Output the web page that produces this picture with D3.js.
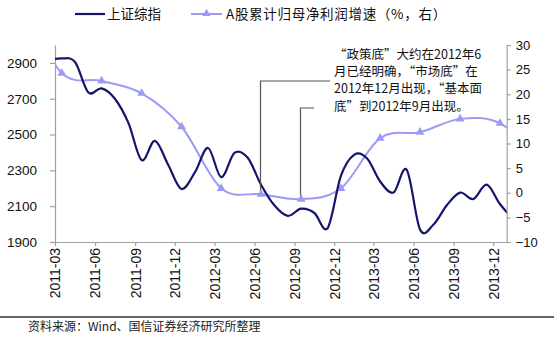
<!DOCTYPE html>
<html>
<head>
<meta charset="utf-8">
<script src="https://cdn.jsdelivr.net/npm/d3@7"></script>
<style>
  body { margin: 0; background: #fff; }
  svg { display: block; }
</style>
</head>
<body>
<svg id="chart" width="554" height="340"></svg>
<script>
// 上证综指 monthly closes (the first and last months run past the plot edges and are clipped)
const indexMonths = [
  "2011-02","2011-03","2011-04","2011-05","2011-06","2011-07","2011-08","2011-09",
  "2011-10","2011-11","2011-12","2012-01","2012-02","2012-03","2012-04","2012-05",
  "2012-06","2012-07","2012-08","2012-09","2012-10","2012-11","2012-12","2013-01",
  "2013-02","2013-03","2013-04","2013-05","2013-06","2013-07","2013-08","2013-09",
  "2013-10","2013-11","2013-12","2014-01"
];
const indexValues = [
  2915, 2925, 2905, 2735, 2758, 2700, 2565, 2357,
  2465, 2330, 2196, 2290, 2425, 2262, 2398, 2370,
  2220, 2105, 2046, 2086, 2062, 1978, 2270, 2388,
  2365, 2238, 2176, 2303, 1970, 1996, 2105, 2176,
  2140, 2220, 2112, 2025
];

// A股累计归母净利润增速 (%), quarterly
const profitMonths = [
  "2010-12","2011-03","2011-06","2011-09","2011-12","2012-03","2012-06",
  "2012-09","2012-12","2013-03","2013-06","2013-09","2013-12","2014-03"
];
const profitValues = [38, 24.3, 22.7, 20.2, 13.4, 0.9, -0.3, -1.3, 0.9, 11.1, 12.3, 15.0, 14.1, 7];

const leftTicks = [1900, 2100, 2300, 2500, 2700, 2900];
const rightTicks = [-10, -5, 0, 5, 10, 15, 20, 25, 30];
const xTickMonths = ["2011-03","2011-06","2011-09","2011-12","2012-03","2012-06",
                     "2012-09","2012-12","2013-03","2013-06","2013-09","2013-12"];

const legendLabels = ["上证综指", "A股累计归母净利润增速（%，右）"];
const noteLines = [
  "“政策底”大约在2012年6",
  "月已经明确，“市场底”在",
  "2012年12月出现，“基本面",
  "底”到2012年9月出现。"
];
const noteMonths = ["2012-06", "2012-09"];
const sourceText = "资料来源：Wind、国信证券经济研究所整理";

const navy = "#15156b";
const lilac = "#9b9bf5";
const axisGray = "#a0a0a0";
const latin = "'Liberation Sans', Arial, sans-serif";
const cjk = "'Noto Sans CJK SC', 'Noto Sans', sans-serif";

const svg = d3.select("#chart");
const plot = { left: 55, right: 506.7, top: 45, bottom: 242 };

const parse = d3.timeParse("%Y-%m");
// each monthly observation sits in the middle of its month
const midMonth = m => {
  const a = parse(m), b = d3.timeMonth.offset(a, 1);
  return new Date((+a + +b) / 2);
};

const x = d3.scaleTime()
  .domain([parse("2011-03"), parse("2014-01")])
  .range([plot.left, plot.right]);
const yL = d3.scaleLinear().domain([1900, 3000]).range([plot.bottom, plot.top]);
const yR = d3.scaleLinear().domain([-10, 30]).range([plot.bottom, plot.top]);

svg.append("clipPath").attr("id", "plotClip")
  .append("rect")
  .attr("x", plot.left).attr("y", plot.top - 10)
  .attr("width", plot.right - plot.left).attr("height", plot.bottom - plot.top + 10);

// axes
const styleAxis = (g, size) => {
  g.selectAll(".domain").attr("stroke", axisGray).attr("stroke-width", 1.2);
  g.selectAll(".tick line").attr("stroke", axisGray).attr("stroke-width", 1.2);
  g.selectAll(".tick text").attr("fill", "#111").style("font-family", latin).style("font-size", size);
};

svg.append("g")
  .attr("transform", `translate(${plot.left},0)`)
  .call(d3.axisLeft(yL).tickValues(leftTicks).tickFormat(d3.format("d"))
    .tickSize(5).tickPadding(13).tickSizeOuter(0))
  .call(g => styleAxis(g, "13.5px"));

svg.append("g")
  .attr("transform", `translate(${plot.right},0)`)
  .call(d3.axisRight(yR).tickValues(rightTicks).tickFormat(d3.format("d"))
    .tickSize(4).tickPadding(5).tickSizeOuter(0))
  .call(g => styleAxis(g, "13px"));

svg.append("g")
  .attr("transform", `translate(0,${plot.bottom})`)
  .call(d3.axisBottom(x).tickValues(xTickMonths.map(parse))
    .tickFormat(d3.timeFormat("%Y-%m")).tickSize(4).tickSizeOuter(0))
  .call(g => styleAxis(g, "14px"))
  .call(g => g.selectAll(".tick text")
    .attr("transform", "rotate(-90)")
    .attr("text-anchor", "end")
    .attr("x", -6).attr("y", 0).attr("dy", "0.35em"));

// series
const indexData = indexMonths.map((m, i) => ({ date: midMonth(m), v: indexValues[i] }));
const profitData = profitMonths.map((m, i) => ({ date: midMonth(m), v: profitValues[i] }));

const series = svg.append("g").attr("clip-path", "url(#plotClip)");

series.append("path")
  .datum(profitData)
  .attr("fill", "none").attr("stroke", lilac).attr("stroke-width", 2)
  .attr("d", d3.line().x(d => x(d.date)).y(d => yR(d.v)).curve(d3.curveCatmullRom.alpha(0)));

series.selectAll(".marker")
  .data(profitData)
  .enter().append("path")
  .attr("class", "marker")
  .attr("transform", d => `translate(${x(d.date)},${yR(d.v)})`)
  .attr("d", d3.symbol().type(d3.symbolTriangle).size(34))
  .attr("fill", lilac);

series.append("path")
  .datum(indexData)
  .attr("fill", "none").attr("stroke", navy).attr("stroke-width", 2.2)
  .attr("d", d3.line().x(d => x(d.date)).y(d => yL(d.v)).curve(d3.curveCatmullRom.alpha(0)));

// callout lines from the two profit markers up to the note
const noteTops = [81, 108];
const noteEnds = [330, 314];
const notes = svg.append("g").attr("stroke", "#555").attr("stroke-width", 1.2).attr("fill", "none");
noteMonths.forEach((m, i) => {
  const d = profitData.find(p => +p.date === +midMonth(m));
  const px = Math.round(x(d.date)) - 0.5;
  notes.append("path")
    .attr("d", `M${px},${yR(d.v) - 4}V${noteTops[i]}H${noteEnds[i]}`);
});

const noteText = svg.append("text")
  .attr("x", 334).attr("y", 59)
  .style("font-family", cjk).style("font-size", "12.5px").attr("fill", "#111");
noteLines.forEach((t, i) => {
  noteText.append("tspan").attr("x", 334).attr("dy", i === 0 ? 0 : 17.2).text(t);
});

// legend
const legend = svg.append("g");
legend.append("line").attr("x1", 75).attr("x2", 105).attr("y1", 14).attr("y2", 14)
  .attr("stroke", navy).attr("stroke-width", 2.2);
legend.append("text").attr("x", 107).attr("y", 14).attr("dy", "0.35em")
  .style("font-family", cjk).style("font-size", "13.5px").attr("fill", "#111")
  .text(legendLabels[0]);
legend.append("line").attr("x1", 191).attr("x2", 222).attr("y1", 14).attr("y2", 14)
  .attr("stroke", lilac).attr("stroke-width", 2);
legend.append("path").attr("transform", "translate(206.5,13.5)")
  .attr("d", d3.symbol().type(d3.symbolTriangle).size(30)).attr("fill", lilac);
legend.append("text").attr("x", 226).attr("y", 14).attr("dy", "0.35em")
  .style("font-family", cjk).style("font-size", "13.5px").style("letter-spacing", "0.7px")
  .attr("fill", "#111")
  .text(legendLabels[1]);

// source footer
svg.append("line").attr("x1", 0).attr("x2", 554).attr("y1", 317).attr("y2", 317)
  .attr("stroke", "#333").attr("stroke-width", 1.5);
svg.append("text").attr("x", 28).attr("y", 327).attr("dy", "0.35em")
  .style("font-family", cjk).style("font-size", "12px").attr("fill", "#222")
  .text(sourceText);
</script>
</body>
</html>
